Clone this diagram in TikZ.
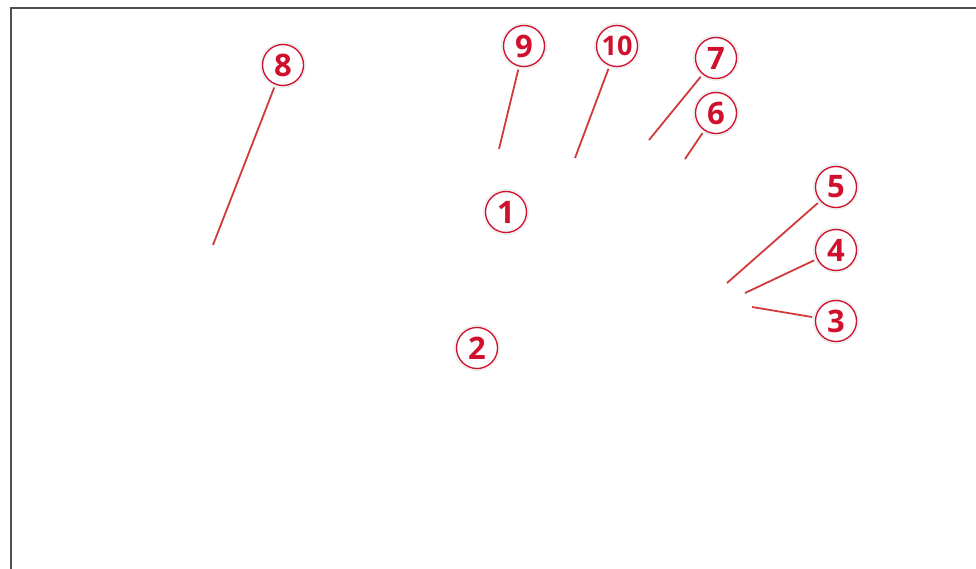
\documentclass[tikz,border=0pt]{standalone}
\usepackage{fontspec}
\setsansfont{Open Sans}
\usepackage{tikz}
\usetikzlibrary{positioning,calc}
\definecolor{callred}{HTML}{D0102C}
\definecolor{leadred}{HTML}{D23A3A}
\definecolor{framegray}{HTML}{505050}

\begin{document}
\begin{tikzpicture}[
  x=1pt, y=-1pt,
  num/.style={draw=callred, line width=1.3pt, circle, fill=white, minimum size=41pt, inner sep=0pt,
    text=callred, font=\fontsize{31}{31}\selectfont\sffamily\bfseries,
    preaction={draw=black!7, line width=5pt}},
  lead/.style={draw=leadred, line width=1.8pt, shorten <=3pt},
  frame/.style={draw=framegray, line width=2.8pt},
]
\useasboundingbox (0,0) rectangle (976,569);
% frame
\draw[frame] (11,569) -- (11,8) -- (976,8);

% callouts
\node[num] (c1) at (506,212) {1};
\node[num] (c2) at (477,348) {2};
\node[num] (c3) at (836,321) {3};
\node[num] (c4) at (836,250) {4};
\node[num] (c5) at (836,187) {5};
\node[num] (c6) at (716,113) {6};
\node[num] (c7) at (716,58) {7};
\node[num] (c8) at (283,65) {8};
\node[num] (c9) at (524,46) {9};
\node[num] (c10) at (617,46) {\fontsize{27}{27}\selectfont 10};

% leader ends
\coordinate (p3) at (752,307);
\coordinate (p4) at (745,293);
\coordinate (p5) at (727,283);
\coordinate (p6) at (685,159);
\coordinate (p7) at (649,140);
\coordinate (p8) at (213,245);
\coordinate (p9) at (499,149);
\coordinate (p10) at (575,158);

\draw[lead] (c3) -- (p3);
\draw[lead] (c4) -- (p4);
\draw[lead] (c5) -- (p5);
\draw[lead] (c6) -- (p6);
\draw[lead] (c7) -- (p7);
\draw[lead] (c8) -- (p8);
\draw[lead] (c9) -- (p9);
\draw[lead] (c10) -- (p10);
\end{tikzpicture}
\end{document}
